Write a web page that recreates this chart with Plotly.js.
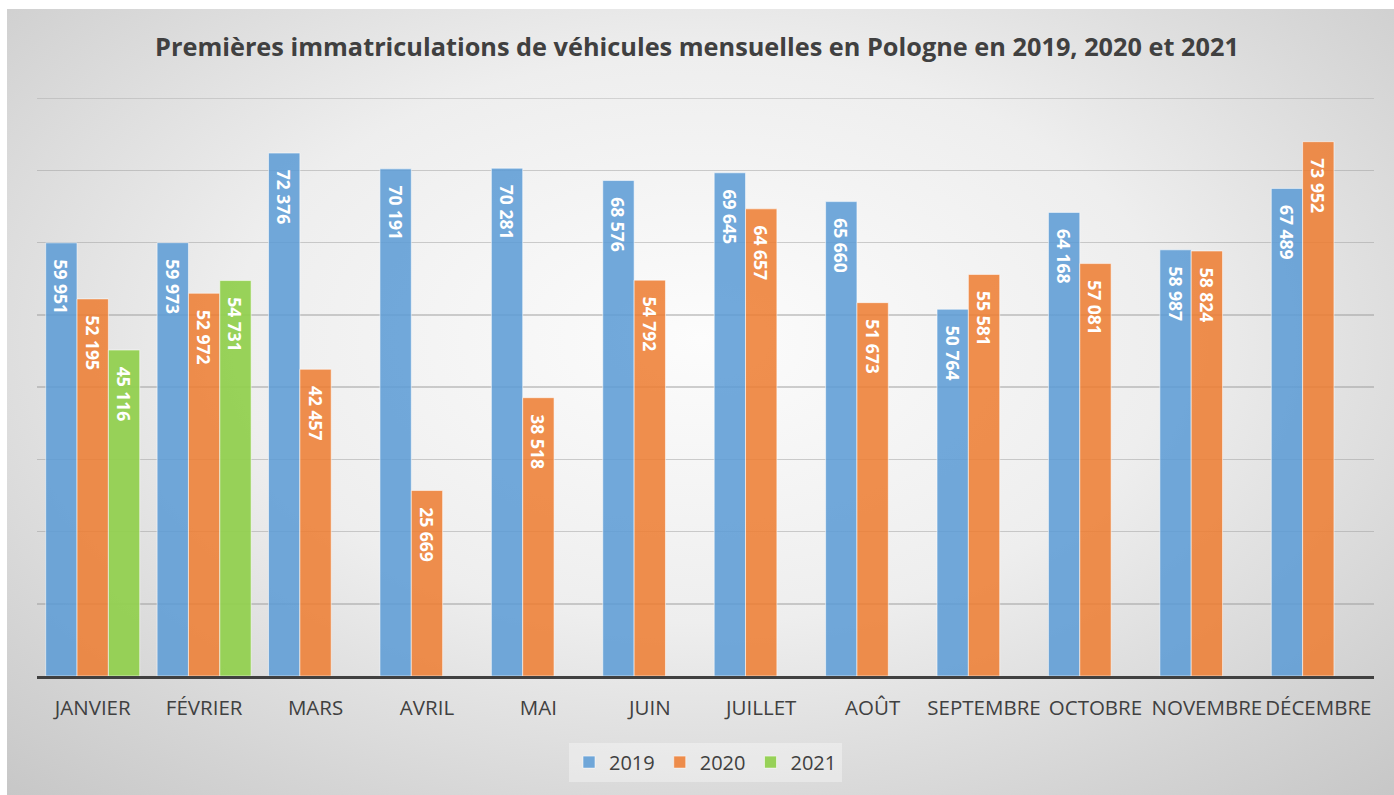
<!DOCTYPE html>
<html>
<head>
<meta charset="utf-8">
<script src="https://cdn.plot.ly/plotly-3.0.1.min.js"></script>
<style>
  html, body { margin: 0; padding: 0; background: #ffffff; }
  #bg { position: absolute; left: 7px; top: 9px; width: 1387px; height: 786px;
        background: radial-gradient(ellipse 75% 80% at 50% 42%, #fcfcfc 0%, #eeeeee 45%, #d4d4d4 80%, #c6c6c6 100%); }
  #chart { position: absolute; left: 0; top: 0; width: 1394px; height: 795px; }
</style>
</head>
<body>
<div id="bg"></div>
<div id="chart"></div>
<script>
const months = ["JANVIER", "FÉVRIER", "MARS", "AVRIL", "MAI", "JUIN", "JUILLET", "AOÛT", "SEPTEMBRE", "OCTOBRE", "NOVEMBRE", "DÉCEMBRE"];
const values2019 = [59951, 59973, 72376, 70191, 70281, 68576, 69645, 65660, 50764, 64168, 58987, 67489];
const values2020 = [52195, 52972, 42457, 25669, 38518, 54792, 64657, 51673, 55581, 57081, 58824, 73952];
const values2021 = [45116, 54731, null, null, null, null, null, null, null, null, null, null];
const seriesNames = ["2019", "2020", "2021"];
const yMax = 80000;

const colors = ["rgba(91,155,213,0.86)", "rgba(237,125,49,0.86)", "rgba(146,208,80,0.95)"];
const allValues = [values2019, values2020, values2021];

const traces = allValues.map((vals, i) => ({
  type: "bar",
  name: seriesNames[i],
  x: months,
  y: vals,
  marker: { color: colors[i], line: { color: "rgba(255,255,255,0.55)", width: 1 } },
  texttemplate: "\u00a0\u00a0\u00a0%{y:,}",
  textposition: "inside",
  insidetextanchor: "end",
  textangle: 90,
  constraintext: "none",
  textfont: { family: "Open Sans, sans-serif", size: 17.5, color: "#ffffff", weight: "bold" },
  hoverinfo: "x+y+name"
}));

const layout = {
  width: 1394,
  height: 795,
  paper_bgcolor: "rgba(0,0,0,0)",
  plot_bgcolor: "rgba(0,0,0,0)",
  separators: ", ",
  margin: { l: 37, r: 20, t: 98, b: 119 },
  barmode: "group",
  bargap: 0.156,
  bargroupgap: 0,
  title: {
    text: "<b>Premières immatriculations de véhicules mensuelles en Pologne en 2019, 2020 et 2021</b>",
    font: { family: "Open Sans, sans-serif", size: 25.3, color: "#404040" },
    x: 0.5, xanchor: "center",
    y: 1 - 47 / 795, yref: "container", yanchor: "middle"
  },
  xaxis: {
    type: "category",
    showgrid: false,
    showline: true,
    linecolor: "#404040",
    linewidth: 2.5,
    ticks: "",
    ticklabelstandoff: 12,
    tickfont: { family: "Open Sans, sans-serif", size: 20.5, color: "#404040" }
  },
  yaxis: {
    range: [0, yMax],
    dtick: 10000,
    showgrid: true,
    gridcolor: "rgba(150,150,150,0.45)",
    gridwidth: 1.5,
    showticklabels: false,
    zeroline: false,
    showline: false,
    fixedrange: true
  },
  shapes: [{
    type: "line", layer: "below",
    xref: "paper", x0: 0, x1: 1,
    yref: "y", y0: yMax, y1: yMax,
    line: { color: "rgba(150,150,150,0.45)", width: 1.5 }
  }],
  legend: {
    orientation: "h",
    x: 0.5, xanchor: "center",
    y: -0.149, yanchor: "middle",
    bgcolor: "rgba(255,255,255,0.35)",
    font: { family: "Open Sans, sans-serif", size: 20, color: "#404040" },
    itemwidth: 30,
    traceorder: "normal"
  },
  showlegend: true
};

Plotly.newPlot("chart", traces, layout, { displayModeBar: false, staticPlot: true });
</script>
</body>
</html>
